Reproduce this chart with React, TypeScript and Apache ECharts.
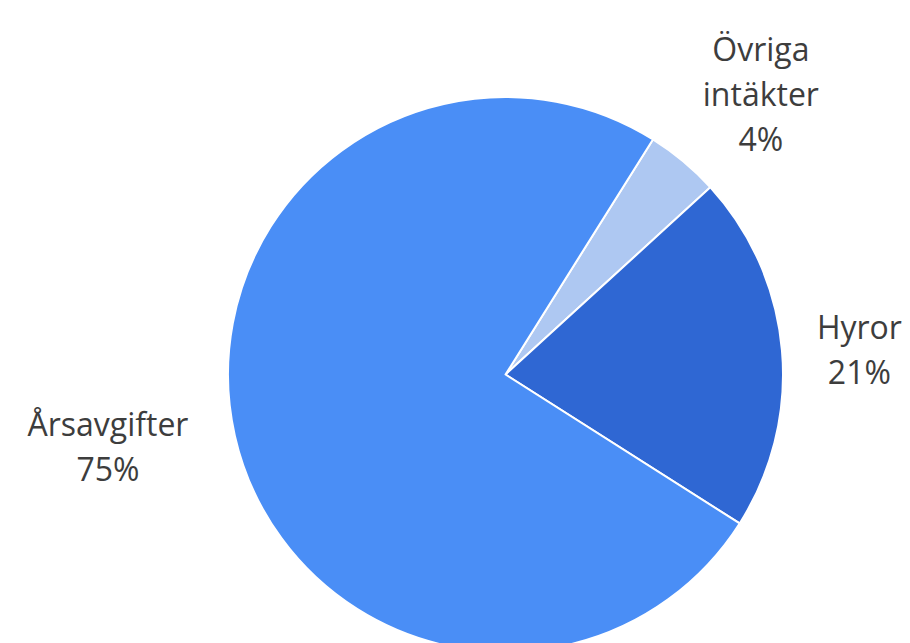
import React, { useEffect, useRef } from "react";
import * as echarts from "echarts";

const categories = ["Övriga\nintäkter", "Hyror", "Årsavgifter"];
const values = [4.3, 20.8, 74.9];
const colors = ["#aec8f2", "#2f67d3", "#4a8ef6"];
// label placement per slice (labelLine length / length2, line hidden)
const labelLengths = [89, 18, 46.5];
const labelLengths2 = [-42.5, 12, -4];

export default function App() {
  const ref = useRef<HTMLDivElement>(null);
  useEffect(() => {
    if (!ref.current) return;
    const chart = echarts.init(ref.current, undefined, { renderer: "svg" });
    const data = categories.map((name, i) => ({
      name,
      value: values[i],
      itemStyle: { color: colors[i] },
      labelLine: { show: false, length: labelLengths[i], length2: labelLengths2[i] },
    }));
    chart.setOption({
      animation: false,
      backgroundColor: "#ffffff",
      series: [
        {
          type: "pie",
          center: [505.5, 374.5],
          radius: 277.5,
          startAngle: 57.9,
          clockwise: true,
          avoidLabelOverlap: false,
          itemStyle: { borderColor: "#ffffff", borderWidth: 2 },
          label: {
            show: true,
            position: "outside",
            distanceToLabelLine: 5,
            formatter: (p: any) =>
              p.name
                .split("\n")
                .concat([Math.round(p.percent) + "%"])
                .map((s: string) => "{n|" + s + "}")
                .join("\n"),
            rich: {
              n: {
                fontFamily: "Open Sans",
                fontSize: 32,
                lineHeight: 45,
                color: "#3d3d3d",
                align: "center",
              },
            },
          },
          emphasis: { disabled: true },
          data,
        },
      ],
    });
    return () => chart.dispose();
  }, []);
  return (
    <div
      ref={ref}
      style={{ position: "absolute", left: 0, top: 0, width: 910, height: 643 }}
    />
  );
}
